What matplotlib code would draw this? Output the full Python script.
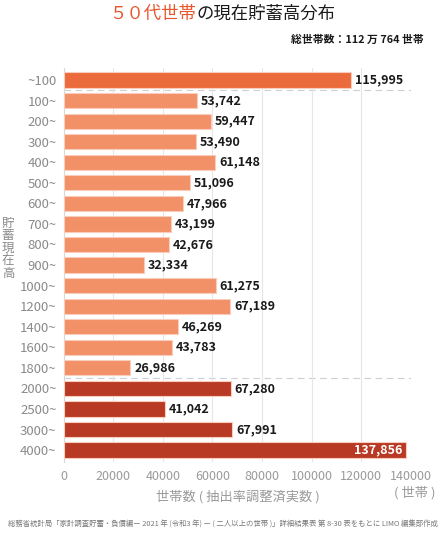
import matplotlib
matplotlib.use("Agg")
import matplotlib.pyplot as plt
import numpy as np

plt.rcParams['font.family'] = ['Noto Sans CJK JP', 'DejaVu Sans']

categories = ["~100", "100~", "200~", "300~", "400~", "500~", "600~", "700~", "800~", "900~",
              "1000~", "1200~", "1400~", "1600~", "1800~", "2000~", "2500~", "3000~", "4000~"]
values = [115995, 53742, 59447, 53490, 61148, 51096, 47966, 43199, 42676, 32334,
          61275, 67189, 46269, 43783, 26986, 67280, 41042, 67991, 137856]
groups = [0] + [1] * 14 + [2] * 4
group_colors = {0: "#EC6B3C", 1: "#F29068", 2: "#B83A24"}
x_ticks = [0, 20000, 40000, 60000, 80000, 100000, 120000, 140000]

fig = plt.figure(figsize=(4.45, 5.36), dpi=100)
ax = fig.add_axes([0.1427, 0.138, 0.781, 0.735])

y = np.arange(len(categories))
colors = [group_colors[g] for g in groups]
ax.barh(y, values, height=0.74, color=colors, edgecolor="#F9CDBB", linewidth=0.8, zorder=3)

ax.set_xlim(0, 140000)
ax.set_ylim(len(categories) - 0.42, -0.58)
ax.set_yticks(y)
ax.set_yticklabels(categories, fontsize=9.5, color="#8a8a8a")
ax.set_xticks(x_ticks)
ax.set_xticklabels([str(t) for t in x_ticks], fontsize=9, color="#9a9a9a")
ax.tick_params(axis='both', length=0)
ax.tick_params(axis='y', pad=5)
ax.tick_params(axis='x', pad=6)
ax.grid(axis='x', color="#e6e6e6", linewidth=0.8, zorder=0)
for s in ["top", "right", "bottom"]:
    ax.spines[s].set_visible(False)
ax.spines["left"].set_color("#d9d9d9")
ax.spines["left"].set_linewidth(0.8)

# dashed group separators
for sep in [0.5, 14.5]:
    ax.axhline(sep, color="#cfcfcf", linewidth=0.8, linestyle=(0, (6, 4)), zorder=1)

for i, v in enumerate(values):
    label = f"{v:,}"
    if v > 130000:
        ax.text(v - 1500, i, label, ha="right", va="center", fontsize=9, color="white",
                fontweight="bold", zorder=4)
    else:
        ax.text(v + 1500, i, label, ha="left", va="center", fontsize=9, color="#1a1a1a",
                fontweight="bold", zorder=4)

# title with coloured part
t1 = fig.text(0.5, 0.974, "５０代世帯", fontsize=12.5, color="#E8552B", ha="right", va="center")
t2 = fig.text(0.5, 0.974, "の現在貯蓄高分布", fontsize=12.5, color="#1a1a1a", ha="left", va="center")
fig.canvas.draw()
w1 = t1.get_window_extent().width / fig.bbox.width
w2 = t2.get_window_extent().width / fig.bbox.width
start = 0.5 - (w1 + w2) / 2
t1.set_x(start + w1)
t2.set_x(start + w1)

fig.text(0.952, 0.926, "総世帯数：112 万 764 世帯", fontsize=7.8, fontweight="bold",
         color="#1a1a1a", ha="right", va="center")

# y label, stacked vertical characters
fig.text(0.018, 0.537, "貯\n蓄\n現\n在\n高", fontsize=9, color="#8a8a8a", ha="center", va="center",
         linespacing=0.95)

fig.text(0.535, 0.073, "世帯数 ( 抽出率調整済実数 )", fontsize=9.5, color="#9a9a9a", ha="center", va="center")
fig.text(0.933, 0.080, "( 世帯 )", fontsize=9.5, color="#9a9a9a", ha="center", va="center")

fig.text(0.5, 0.022,
         "総務省統計局「家計調査貯蓄・負債編ー 2021 年 (令和3 年) ー ( 二人以上の世帯 )」詳細結果表 第 8-30 表をもとに LIMO 編集部作成",
         fontsize=5.3, color="#777777", ha="center", va="center")

fig.savefig("out.png", dpi=100)
